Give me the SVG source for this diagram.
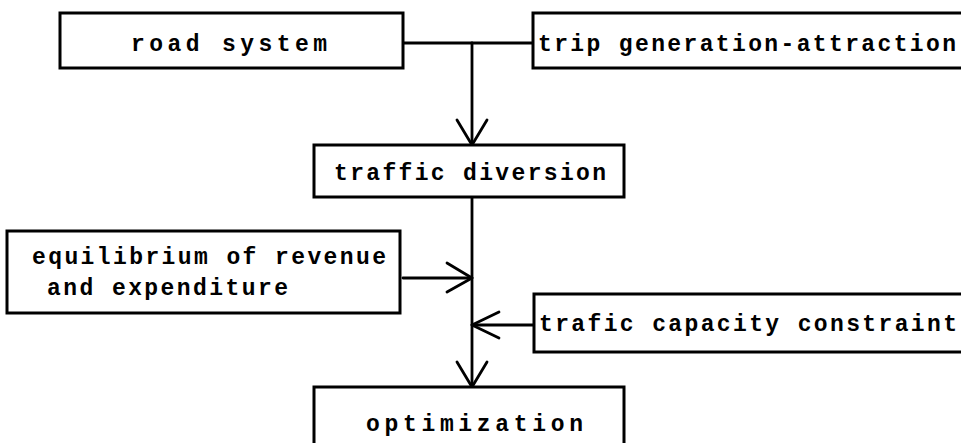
<svg xmlns="http://www.w3.org/2000/svg" width="961" height="443" viewBox="0 0 961 443">
<style>
.box{fill:#fff;stroke:#000;stroke-width:3}
.lbl{font-family:"Liberation Mono","DejaVu Sans Mono",monospace;font-weight:bold;font-size:23px;fill:#000}
.con{fill:none;stroke:#000;stroke-width:2.8;stroke-linecap:round;stroke-linejoin:round}
</style>
<rect width="961" height="443" fill="#fff"/>
<g id="connectors">
<polyline class="con" points="403,43 533,43"/>
<polyline class="con" points="472,43 472,145"/>
<polyline class="con" points="457,120 472,145 487,120"/>
<polyline class="con" points="472,197 472,387"/>
<polyline class="con" points="457,362 472,387 487,362"/>
<polyline class="con" points="403,278 472,278"/>
<polyline class="con" points="447,263 472,278 447,292"/>
<polyline class="con" points="534,325 472,325"/>
<polyline class="con" points="499,312 472,325 499,338"/>
</g>
<g id="road-system">
<rect class="box" x="60" y="13" width="343" height="55"/>
<text class="lbl" x="131" y="51" textLength="196" lengthAdjust="spacing">road system</text>
</g>
<g id="trip-generation">
<rect class="box" x="533" y="13" width="440" height="55"/>
<text class="lbl" x="538" y="51" textLength="418" lengthAdjust="spacing">trip generation-attraction</text>
</g>
<g id="traffic-diversion">
<rect class="box" x="314" y="145" width="310" height="52"/>
<text class="lbl" x="334" y="180" textLength="272" lengthAdjust="spacing">traffic diversion</text>
</g>
<g id="equilibrium">
<rect class="box" x="7" y="231" width="393" height="82"/>
<text class="lbl" x="32" y="264" textLength="354" lengthAdjust="spacing">equilibrium of revenue</text>
<text class="lbl" x="47" y="295" textLength="241" lengthAdjust="spacing">and expenditure</text>
</g>
<g id="capacity-constraint">
<rect class="box" x="534" y="294" width="440" height="58"/>
<text class="lbl" x="539" y="331" textLength="418" lengthAdjust="spacing">trafic capacity constraint</text>
</g>
<g id="optimization">
<rect class="box" x="314" y="387" width="310" height="80"/>
<text class="lbl" x="366" y="431" textLength="217" lengthAdjust="spacing">optimization</text>
</g>
</svg>
